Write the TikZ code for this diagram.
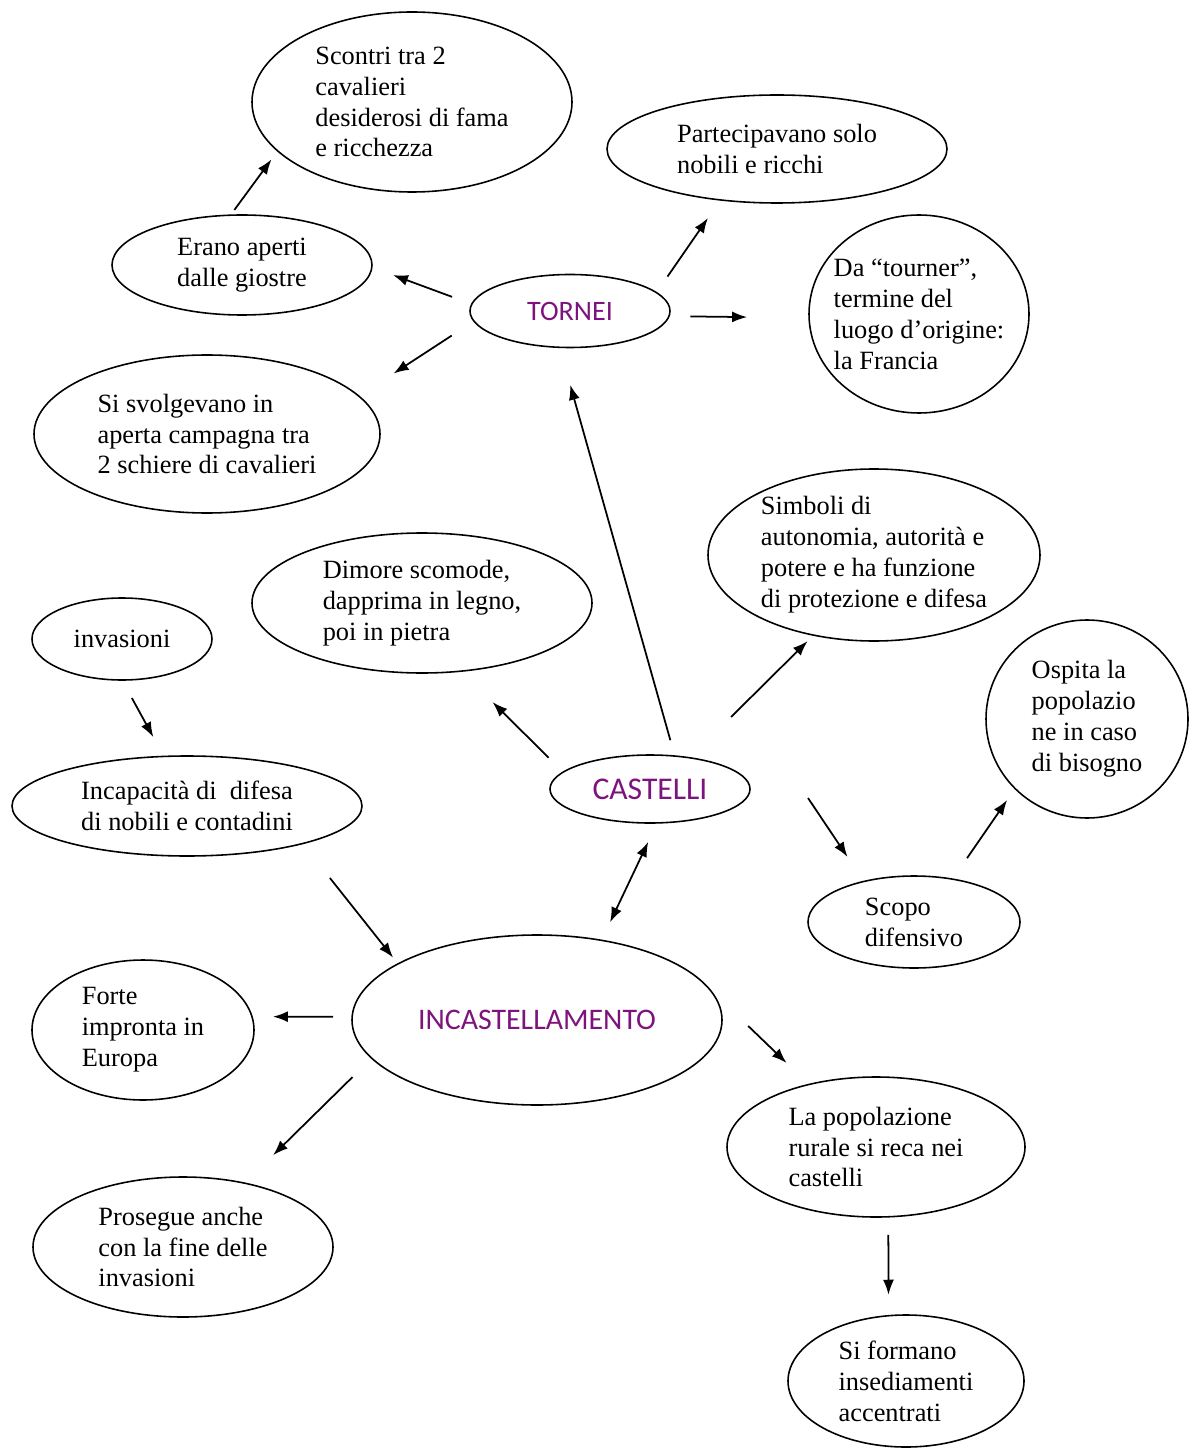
\documentclass[tikz,border=0pt]{standalone}
\usepackage{fontspec}
\setmainfont{Liberation Serif}
\setsansfont{Carlito}
\usepackage{tikz}
\usetikzlibrary{shapes.geometric,arrows.meta}
\definecolor{topicpurple}{RGB}{125,20,125}

\begin{document}
\begin{tikzpicture}[
    bubble/.style={ellipse, draw, line width=0.9pt, inner sep=-1cm, outer sep=0pt, align=left, font=\fontsize{15}{17.6}\selectfont},
    topic/.style={bubble, text=topicpurple, font=\sffamily\fontsize{16}{19}\selectfont},
    arr/.style={line width=1pt, -{Latex[length=3mm,width=2.2mm]}},
    dblarr/.style={line width=1pt, {Latex[length=3mm,width=2.2mm]}-{Latex[length=3mm,width=2.2mm]}}
]
            \useasboundingbox (0,0) rectangle (23.8,-29.08);

            \node[bubble, minimum width=6.4cm, minimum height=3.6cm] (scontri) at (8.24,-2.04) {Scontri tra 2\\cavalieri\\desiderosi di fama\\e ricchezza};
            \node[bubble, minimum width=6.8cm, minimum height=2.16cm] (partecip) at (15.54,-2.98) {Partecipavano solo\\nobili e ricchi};
            \node[bubble, minimum width=5.2cm, minimum height=2cm] (erano) at (4.84,-5.3) {Erano aperti\\dalle giostre};
            \node[topic, minimum width=4cm, minimum height=1.46cm] (tornei) at (11.4,-6.22) {TORNEI};
            \node[bubble, minimum width=4.4cm, minimum height=3.96cm] (tourner) at (18.38,-6.28) {Da “tourner”,\\termine del\\luogo d’origine:\\la Francia};
            \node[bubble, minimum width=6.92cm, minimum height=3.16cm] (svolg) at (4.14,-8.68) {Si svolgevano in\\aperta campagna tra\\2 schiere di cavalieri};
            \node[bubble, minimum width=6.64cm, minimum height=3.44cm] (simboli) at (17.48,-11.1) {Simboli di\\autonomia, autorità e\\potere e ha funzione\\di protezione e difesa};
            \node[bubble, minimum width=6.8cm, minimum height=2.8cm] (dimore) at (8.44,-12.06) {Dimore scomode,\\dapprima in legno,\\poi in pietra};
            \node[bubble, minimum width=3.6cm, minimum height=1.64cm] (invasioni) at (2.44,-12.78) {invasioni};
            \node[bubble, minimum width=4.04cm, minimum height=3.96cm] (ospita) at (21.74,-14.38) {Ospita la\\popolazio\\ne in caso\\di bisogno};
            \node[topic, minimum width=4cm, minimum height=1.36cm, font=\sffamily\fontsize{18}{21}\selectfont] (castelli) at (13,-15.78) {CASTELLI};
            \node[bubble, minimum width=7cm, minimum height=2cm] (incapac) at (3.74,-16.12) {Incapacità di \ difesa\\di nobili e contadini};
            \node[bubble, minimum width=4.24cm, minimum height=1.84cm] (scopo) at (18.28,-18.44) {Scopo\\difensivo};
            \node[topic, minimum width=7.4cm, minimum height=3.4cm, font=\sffamily\fontsize{17}{20}\selectfont] (incast) at (10.74,-20.4) {INCASTELLAMENTO};
            \node[bubble, minimum width=4.44cm, minimum height=2.8cm] (forte) at (2.86,-20.6) {Forte\\impronta in\\Europa};
            \node[bubble, minimum width=5.96cm, minimum height=2.8cm] (popol) at (17.52,-22.94) {La popolazione\\rurale si reca nei\\castelli};
            \node[bubble, minimum width=6cm, minimum height=2.8cm] (prosegue) at (3.66,-24.94) {Prosegue anche\\con la fine delle\\invasioni};
            \node[bubble, minimum width=4.72cm, minimum height=2.64cm] (formano) at (18.12,-27.62) {Si formano\\insediamenti\\accentrati};

            \draw[arr, shorten <=0.13cm, shorten >=0.21cm] (erano.103) -- (scontri.200);
            \draw[arr, shorten <=0.42cm, shorten >=0.45cm] (tornei.176) -- (erano.-1);
            \draw[arr, shorten <=0.53cm, shorten >=0.83cm] (tornei.186) -- (svolg.14);
            \draw[arr, shorten <=0.39cm, shorten >=0.44cm] (tornei.12) -- (partecip.222);
            \draw[arr, shorten <=0.43cm, shorten >=1.24cm] (tornei.-3) -- (tourner.182);

            \draw[arr, shorten <=0.33cm, shorten >=0.78cm] (castelli.53) -- (tornei.254);
            \draw[arr, shorten <=0.41cm, shorten >=0.88cm] (castelli.169) -- (dimore.-60);
            \draw[arr, shorten <=1.16cm, shorten >=0.17cm] (castelli.38) -- (simboli.233);
            \draw[arr, shorten >=0.59cm] ([shift={(1.16,-0.18)}]castelli.east) -- (scopo.141);
            \draw[arr, shorten <=0.51cm, shorten >=0.28cm] (scopo.48) -- (ospita.224);

            \draw[arr, shorten <=0.41cm, shorten >=0.44cm] (invasioni.-90) -- (incapac.115);
            \draw[arr, shorten <=0.88cm, shorten >=0.16cm] (incapac.-18) -- (incast.158);
            \draw[dblarr, shorten <=0.4cm, shorten >=0.42cm] (incast.51) -- (castelli.-78);

            \draw[arr, shorten <=0.38cm, shorten >=0.42cm] (incast.179) -- (forte.7);
            \draw[arr, shorten <=0.54cm, shorten >=0.8cm] (incast.193) -- (prosegue.46);
            \draw[arr, shorten <=1.2cm, shorten >=0.62cm] (incast.12) -- (popol.137);
            \draw[arr, shorten <=0.36cm, shorten >=0.42cm] (popol.-80) -- (formano.105);
        \end{tikzpicture}
\end{document}
